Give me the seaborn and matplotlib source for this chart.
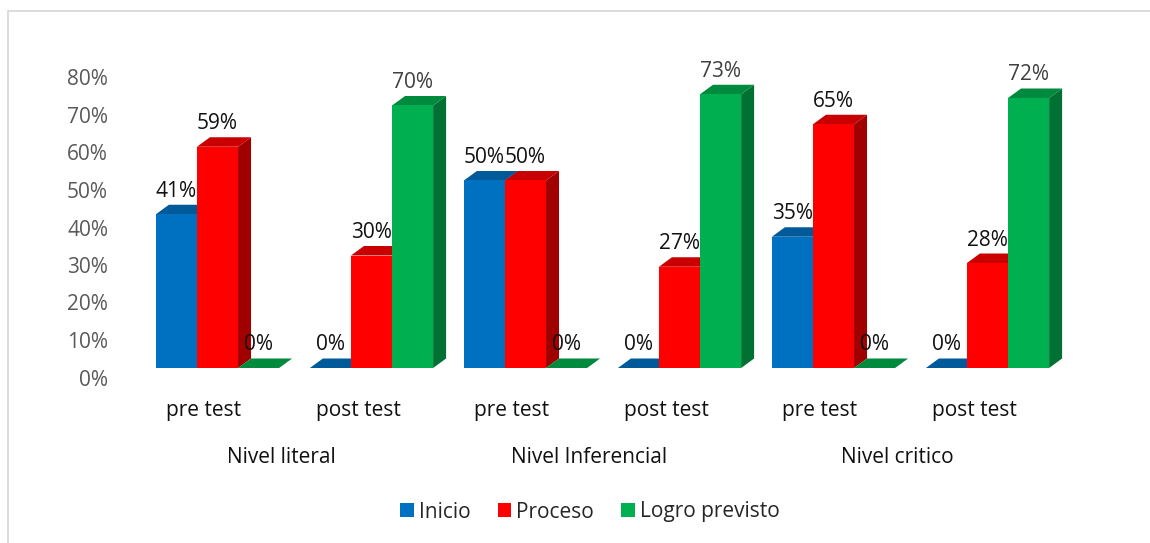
import numpy as np
import pandas as pd
import seaborn as sns
import matplotlib.pyplot as plt
from matplotlib.patches import Polygon, Rectangle, Patch
from matplotlib.transforms import ScaledTranslation

# datos del grafico
niveles = ["Nivel literal", "Nivel Inferencial", "Nivel critico"]
pruebas = ["pre test", "post test"]
series = ["Inicio", "Proceso", "Logro previsto"]
inicio = [41, 0, 50, 0, 35, 0]
proceso = [59, 30, 50, 27, 65, 28]
logro = [0, 70, 0, 73, 0, 72]
y_ticks = [0, 10, 20, 30, 40, 50, 60, 70, 80]

colores = {"Inicio": "#0070C0", "Proceso": "#FF0000", "Logro previsto": "#00B050"}
tapas = {"Inicio": "#005A9A", "Proceso": "#C80000", "Logro previsto": "#008A3E"}
lados = {"Inicio": "#004F86", "Proceso": "#A00000", "Logro previsto": "#007033"}

claves = [n + "|" + p for n in niveles for p in pruebas]
df = pd.DataFrame({
    "clave": claves * 3,
    "serie": ["Inicio"] * 6 + ["Proceso"] * 6 + ["Logro previsto"] * 6,
    "valor": inicio + proceso + logro,
})

sns.set_style("white")
plt.rcParams["font.family"] = ["Open Sans", "DejaVu Sans"]
FS = 15

W, H = 1150, 543
fig = plt.figure(figsize=(W / 100, H / 100), dpi=100)
ax = fig.add_axes([140.5 / W, 175 / H, 924 / W, 318.75 / H])

sns.barplot(data=df, x="clave", y="valor", hue="serie", order=claves,
            hue_order=series, palette=colores, width=0.8, saturation=1,
            legend=False, ax=ax, linewidth=0)
ax.set_xlim(-0.5, 5.5)
ax.set_ylim(0, 85)
ax.set_xticks([])
ax.set_yticks([])
ax.set_xlabel("")
ax.set_ylabel("")
sns.despine(ax=ax, left=True, bottom=True)


def px(dx, dy):
    return ScaledTranslation(dx / 100, dy / 100, fig.dpi_scale_trans)


# profundidad 3D en unidades de datos
dx = 13 / 154
dy = 9.5 / 3.75

todas = []
for serie, cont in zip(series, ax.containers):
    for bar in cont:
        todas.append((bar.get_x(), serie, bar))
todas.sort(key=lambda t: t[0])

for rank, (x0, serie, bar) in enumerate(todas):
    z = 3 + rank
    w = bar.get_width()
    h = bar.get_height()
    bar.set_zorder(z)
    top = Polygon([(x0, h), (x0 + w, h), (x0 + w + dx, h + dy), (x0 + dx, h + dy)],
                  closed=True, facecolor=tapas[serie], edgecolor="none",
                  zorder=z - 0.1, clip_on=False)
    side = Polygon([(x0 + w, 0), (x0 + w + dx, dy), (x0 + w + dx, h + dy), (x0 + w, h)],
                   closed=True, facecolor=lados[serie], edgecolor="none",
                   zorder=z - 0.2, clip_on=False)
    ax.add_patch(side)
    ax.add_patch(top)
    col = "#404040" if serie == "Logro previsto" and h > 0 else "#111111"
    ax.text(x0 + w / 2, h, f"{h:.0f}%", ha="center", va="center", fontsize=FS,
            color=col, zorder=50, transform=ax.transData + px(0, 23))

# etiquetas del eje y
for v in y_ticks:
    ax.text(0, v, f"{v}%", ha="right", va="center", fontsize=FS, color="#595959",
            transform=ax.get_yaxis_transform() + px(-32.5, -12))

# etiquetas de categorias
for i, c in enumerate(claves):
    ax.text(i, 0, c.split("|")[1], ha="center", va="center", fontsize=FS,
            color="#111111", transform=ax.get_xaxis_transform() + px(-13.5, -42.5))
for k, n in enumerate(niveles):
    ax.text(2 * k + 0.5, 0, n, ha="center", va="center", fontsize=FS,
            color="#111111", transform=ax.get_xaxis_transform() + px(-13.5, -89.5))

handles = [Patch(facecolor=colores[s], edgecolor="none", label=s) for s in series]
fig.legend(handles=handles, loc="center", bbox_to_anchor=(590 / W, 1 - 512 / H),
           ncol=3, frameon=False, fontsize=FS, handlelength=0.65, handleheight=0.65,
           handletextpad=0.25, columnspacing=1.3)

# borde del area del grafico
fig.patches.append(Rectangle((8 / W, -0.2), 1.5, (H - 11) / H + 0.2,
                             transform=fig.transFigure, fill=False,
                             edgecolor="#D9D9D9", linewidth=1.3))

fig.savefig("out.png", dpi=100)
